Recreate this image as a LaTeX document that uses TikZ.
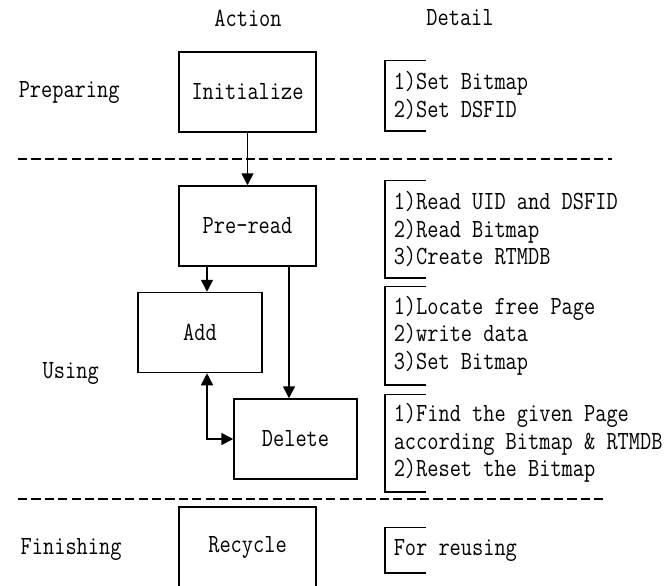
\documentclass[tikz,border=0pt]{standalone}
\usepackage{fontspec}
\newfontfamily\steptt[FakeStretch=0.83]{Latin Modern Mono}
\usetikzlibrary{positioning}
\usetikzlibrary{arrows.meta}
\newcommand{\widthstep}{68.5pt}
\newcommand{\heightstep}{40pt}
\newcommand{\widtharm}{20.5pt}
\newcommand{\bracket}[1]{\draw[bracket] ([xshift=\widtharm]#1.north west) -| (#1.south west) -- ++(\widtharm,0)}
\tikzset{
    txt/.style={font=\steptt\fontsize{13.1}{13.75}\selectfont},
    common/.style={txt, draw, rectangle, line width=0.75pt, minimum height=\heightstep},
    action/.style={common, minimum width=\widthstep},
    detail/.style={txt, anchor=west, align=left, inner xsep=4pt, inner ysep=0pt},
    stage/.style={txt, anchor=west, inner sep=0pt},
    bracket/.style={line width=0.75pt},
    separator/.style={line width=1.2pt, dash pattern=on 4.6pt off 2.1pt},
}
\begin{document}
\begin{tikzpicture}[x=0.5pt, y=-0.5pt, >={Triangle[length=6pt, width=6pt]}, line width=0.75pt]
    \useasboundingbox (0,0) rectangle (669,585);

    \node[txt] (action) at (248,18) {Action};
    \node[txt] (detail) at (460,18) {Detail};

    \node[stage] (preparing) at (18,92) {Preparing};
    \node[stage] (using) at (42,373) {Using};
    \node[stage] (finishing) at (20,549) {Finishing};

    \node[action] (init) at (247.5,92) {Initialize};
    \node[action] (preread) at (247.5,226) {Pre-read};
    \node[common, minimum width=62pt] (add) at (200,332.5) {Add};
    \node[common, minimum width=61.5pt] (delete) at (295.5,439) {Delete};
    \node[action] (recycle) at (247.5,547) {Recycle};

    \node[detail, minimum height=34.5pt] (detinit) at (385,95.5) {1)Set Bitmap\\2)Set DSFID};
    \node[detail, minimum height=48pt] (detpre) at (385,229) {1)Read UID and DSFID\\2)Read Bitmap\\3)Create RTMDB};
    \node[detail, minimum height=48.5pt] (detadd) at (385,335.5) {1)Locate free Page\\2)write data\\3)Set Bitmap};
    \node[detail, minimum height=48pt] (detdel) at (385,443) {1)Find the given Page\\according Bitmap \& RTMDB\\2)Reset the Bitmap};
    \node[detail, minimum height=22pt] (detrec) at (385,550) {For reusing};

    \bracket{detinit};
    \bracket{detpre};
    \bracket{detadd};
    \bracket{detdel};
    \bracket{detrec};

    \draw[separator] (18,159) -- (612,159);
    \draw[separator] (18,499) -- (604,499);

    \coordinate (drop) at (289,0);
    \coordinate (link) at (207,0);
    \draw[->] (init) -- (preread);
    \draw[->] (preread.south -| link) -- (add.north -| link);
    \draw[->] (preread.south -| drop) -- (delete.north -| drop);
    \draw[<->] (add.south -| link) |- (delete.west);
\end{tikzpicture}
\end{document}
